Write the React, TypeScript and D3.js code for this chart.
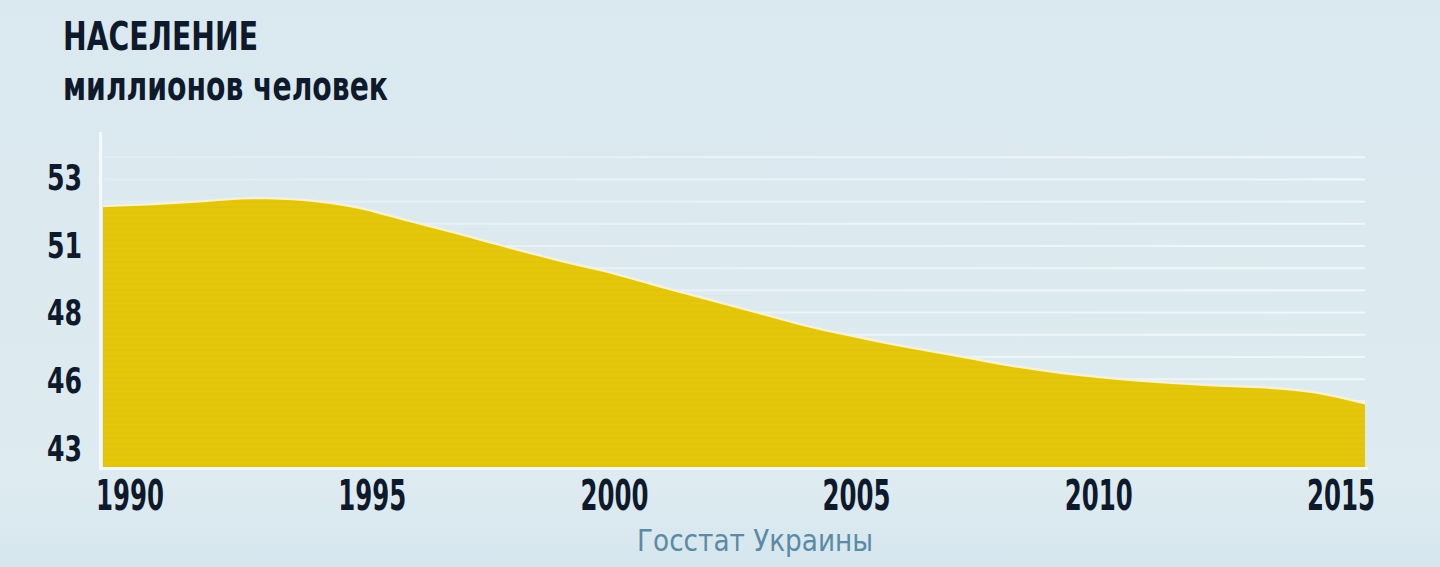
import React from "react";
import * as d3 from "d3";

// ---- data ----
const years: number[] = [
  1990, 1991, 1992, 1993, 1994, 1995, 1996, 1997, 1998, 1999, 2000, 2001, 2002,
  2003, 2004, 2005, 2006, 2007, 2008, 2009, 2010, 2011, 2012, 2013, 2014, 2015,
];
const population: number[] = [
  51.9, 51.97, 52.08, 52.19, 52.12, 51.86, 51.38, 50.9, 50.39, 49.91, 49.47,
  48.95, 48.45, 47.95, 47.45, 47.05, 46.68, 46.35, 46.01, 45.74, 45.55, 45.4,
  45.29, 45.21, 45.03, 44.62,
];
const yTickValues: number[] = [53, 50.5, 48, 45.5, 43];
const yTickLabels: string[] = ["53", "51", "48", "46", "43"];
const xTickValues: number[] = [1990, 1995, 2000, 2005, 2010, 2015];
const titleText = "НАСЕЛЕНИЕ";
const subtitleText = "миллионов человек";
const sourceText = "Госстат Украины";

// ---- layout ----
const W = 1440;
const H = 567;
const plotLeft = 103;
const plotRight = 1365;
const plotTop = 135;
const plotBottom = 467;
const gridBands = 15;

const BG = "#dce9f0";
const YELLOW = "#e4c70b";
const INK = "#0e1a2c";
const FONT = "'Liberation Sans Narrow', 'DejaVu Sans Condensed', Roboto, sans-serif";

export default function App() {
  const x = d3.scaleLinear().domain([1990, 2015]).range([plotLeft, plotRight]);
  const y = d3
    .scaleLinear()
    .domain([42.32, 54.56])
    .range([plotBottom, plotTop]);
  const labelX = d3
    .scaleLinear()
    .domain([1990, 2015])
    .range([plotLeft + 27, plotRight - 24]);

  const data = years.map((yr, i) => ({ yr, v: population[i] }));
  const area = d3
    .area<{ yr: number; v: number }>()
    .x((d) => x(d.yr))
    .y0(plotBottom)
    .y1((d) => y(d.v))
    .curve(d3.curveMonotoneX);
  const line = d3
    .line<{ yr: number; v: number }>()
    .x((d) => x(d.yr))
    .y((d) => y(d.v))
    .curve(d3.curveMonotoneX);

  const gridY = d3
    .range(1, gridBands)
    .map((i) => plotTop + ((plotBottom + 1 - plotTop) * i) / gridBands);
  const stripeY = d3.range(plotTop, plotBottom, 5.5);

  return (
    <>
      <style>{`body{margin:0;background:${BG}}`}</style>
      <svg width={W} height={H} style={{ display: "block" }}>
        <defs>
          <linearGradient id="bg" x1="0" y1="0" x2="0" y2="1">
            <stop offset="0" stopColor="#dae8ef" />
            <stop offset="0.85" stopColor="#deebf1" />
            <stop offset="1" stopColor="#d6e6ee" />
          </linearGradient>
          <linearGradient id="gridFade" x1="0" y1="0" x2="1" y2="0">
            <stop offset="0" stopColor="#f2f8fb" stopOpacity="0.3" />
            <stop offset="0.5" stopColor="#f2f8fb" stopOpacity="0.65" />
            <stop offset="1" stopColor="#f2f8fb" stopOpacity="0.95" />
          </linearGradient>
          <clipPath id="areaClip">
            <path d={area(data) || ""} />
          </clipPath>
        </defs>
        <rect x={0} y={0} width={W} height={H} fill="url(#bg)" />

        {/* grid lines */}
        {gridY.map((gy, i) => (
          <rect
            key={i}
            x={plotLeft}
            y={gy - 1}
            width={plotRight - plotLeft}
            height={2}
            fill="url(#gridFade)"
          />
        ))}

        {/* area highlight edge */}
        <path
          d={line(data) || ""}
          fill="none"
          stroke="#f7f2cf"
          strokeWidth={5}
          strokeLinejoin="round"
        />
        <path d={area(data) || ""} fill={YELLOW} />
        <g clipPath="url(#areaClip)">
          {stripeY.map((sy, i) => (
            <rect
              key={i}
              x={plotLeft}
              y={sy}
              width={plotRight - plotLeft}
              height={1.2}
              fill="#b89a00"
              opacity={0.08}
            />
          ))}
        </g>

        {/* axis lines */}
        <rect x={99} y={132} width={3} height={plotBottom + 3 - 132} fill="#f5f9fb" />
        <rect
          x={99}
          y={plotBottom}
          width={plotRight - 99 + 3}
          height={3}
          fill="#f5f9fb"
          opacity={0.9}
        />

        {/* titles */}
        <text
          x={63}
          y={50}
          fontFamily={FONT}
          fontWeight={700}
          fontSize={39}
          fill={INK}
          textLength={195}
          lengthAdjust="spacingAndGlyphs"
        >
          {titleText}
        </text>
        <text
          x={63}
          y={100}
          fontFamily={FONT}
          fontWeight={700}
          fontSize={41}
          fill={INK}
          textLength={325}
          lengthAdjust="spacingAndGlyphs"
        >
          {subtitleText}
        </text>

        {/* y tick labels */}
        {yTickValues.map((v, i) => (
          <g key={v} transform={`translate(82,${y(v) + 12.5}) scale(0.8,1)`}>
            <text
              x={0}
              y={0}
              textAnchor="end"
              fontFamily={FONT}
              fontWeight={700}
              fontSize={35}
              fill={INK}
            >
              {yTickLabels[i]}
            </text>
          </g>
        ))}

        {/* x tick labels */}
        {xTickValues.map((t) => (
          <text
            key={t}
            x={labelX(t)}
            y={510}
            textAnchor="middle"
            fontFamily={FONT}
            fontWeight={700}
            fontSize={42}
            fill={INK}
            textLength={68}
            lengthAdjust="spacingAndGlyphs"
          >
            {String(t)}
          </text>
        ))}

        {/* source */}
        <text
          x={755}
          y={551}
          textAnchor="middle"
          fontFamily={FONT}
          fontWeight={400}
          fontSize={31}
          fill="#5a8aa4"
          textLength={236}
          lengthAdjust="spacingAndGlyphs"
        >
          {sourceText}
        </text>
      </svg>
    </>
  );
}
